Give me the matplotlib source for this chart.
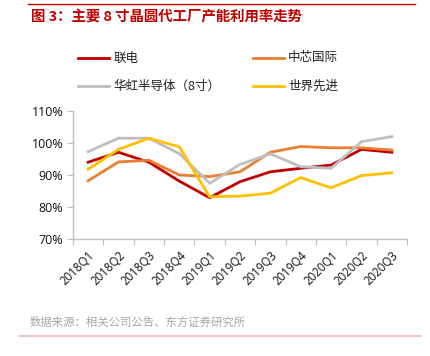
import matplotlib
matplotlib.use("Agg")
import matplotlib.pyplot as plt
import matplotlib.transforms as mtransforms
from matplotlib.lines import Line2D

plt.rcParams['font.family'] = ['Noto Sans CJK SC', 'DejaVu Sans']

quarters = ["2018Q1", "2018Q2", "2018Q3", "2018Q4", "2019Q1", "2019Q2",
            "2019Q3", "2019Q4", "2020Q1", "2020Q2", "2020Q3"]
umc = [94.0, 97.1, 94.0, 88.1, 82.9, 87.9, 91.0, 92.1, 93.1, 98.0, 97.1]
smic = [88.2, 94.1, 94.6, 90.0, 89.5, 91.0, 97.1, 98.9, 98.5, 98.5, 97.8]
hhgrace = [97.3, 101.5, 101.5, 96.7, 87.4, 93.3, 96.6, 92.6, 92.1, 100.4, 102.0]
vis = [91.8, 98.0, 101.5, 98.8, 83.2, 83.4, 84.3, 89.2, 86.0, 89.8, 90.7]

names = ["联电", "中芯国际", "华虹半导体（8寸）", "世界先进"]
series = [umc, smic, hhgrace, vis]
colors = ["#C00000", "#ED7D31", "#BFBFBF", "#FFC000"]
yticks = [70, 80, 90, 100, 110]

fig = plt.figure(figsize=(4.3, 3.56), dpi=100)
W, H = 430., 356.
ax = fig.add_axes([73/W, 1-239/H, (407-73)/W, (239-111)/H])

x = list(range(len(quarters)))
for vals, c in zip(series, colors):
  ax.plot(x, vals, color=c, lw=2.0, solid_joinstyle='miter')

ax.set_xlim(-0.5, len(quarters)-0.5)
ax.set_ylim(70, 110)
ax.set_yticks(yticks)
ax.set_yticklabels(["%d%%" % v for v in yticks], fontsize=9, color="#111111",
                   family=['Open Sans', 'DejaVu Sans'])
ax.set_xticks([i-0.5 for i in range(len(quarters)+1)])
ax.set_xticklabels([])
ax.set_xticks(x, minor=True)
labs = ax.set_xticklabels(quarters, minor=True, rotation=45, ha='right', va='top',
                   rotation_mode='anchor', fontsize=8.3, color="#111111",
                   family=['Open Sans', 'DejaVu Sans'])
shift = mtransforms.ScaledTranslation(4/100., 0, fig.dpi_scale_trans)
for t in labs:
  t.set_transform(t.get_transform() + shift)
ax.tick_params(axis='x', which='minor', length=0, pad=7)
ax.tick_params(axis='x', which='major', length=4, color="#BFBFBF", direction='out')
ax.tick_params(axis='y', length=4, color="#BFBFBF", direction='out', pad=3)
for s in ['top', 'right']:
  ax.spines[s].set_visible(False)
for s in ['left', 'bottom']:
  ax.spines[s].set_color("#BFBFBF")
  ax.spines[s].set_linewidth(1.0)

# legend, laid out in two rows of two
legpos = [(78, 58), (253, 58), (78, 86), (253, 86)]
for (lx, ly), name, c in zip(legpos, names, colors):
  fig.add_artist(Line2D([lx/W, (lx+31)/W], [1-ly/H, 1-ly/H], color=c, lw=2.0))
  fig.text((lx+35)/W, 1-ly/H, name, fontsize=9, va='center', ha='left', color="#222222")

# title and footer
fig.add_artist(Line2D([28/W, 415/W], [1-3.5/H, 1-3.5/H], color="#C00000", lw=1.0))
fig.text(31/W, 1-17/H, "图 3：主要 8 寸晶圆代工厂产能利用率走势", fontsize=10.4,
         fontweight='bold', color="#C00000", va='center', ha='left')
fig.text(30/W, 1-322/H, "数据来源：相关公司公告、东方证券研究所", fontsize=8.2,
         color="#A6A6A6", va='center', ha='left')
fig.add_artist(Line2D([20/W, 421/W], [1-336/H, 1-336/H], color="#F4B6B6", lw=1.2))

fig.savefig("out.png", dpi=100)
